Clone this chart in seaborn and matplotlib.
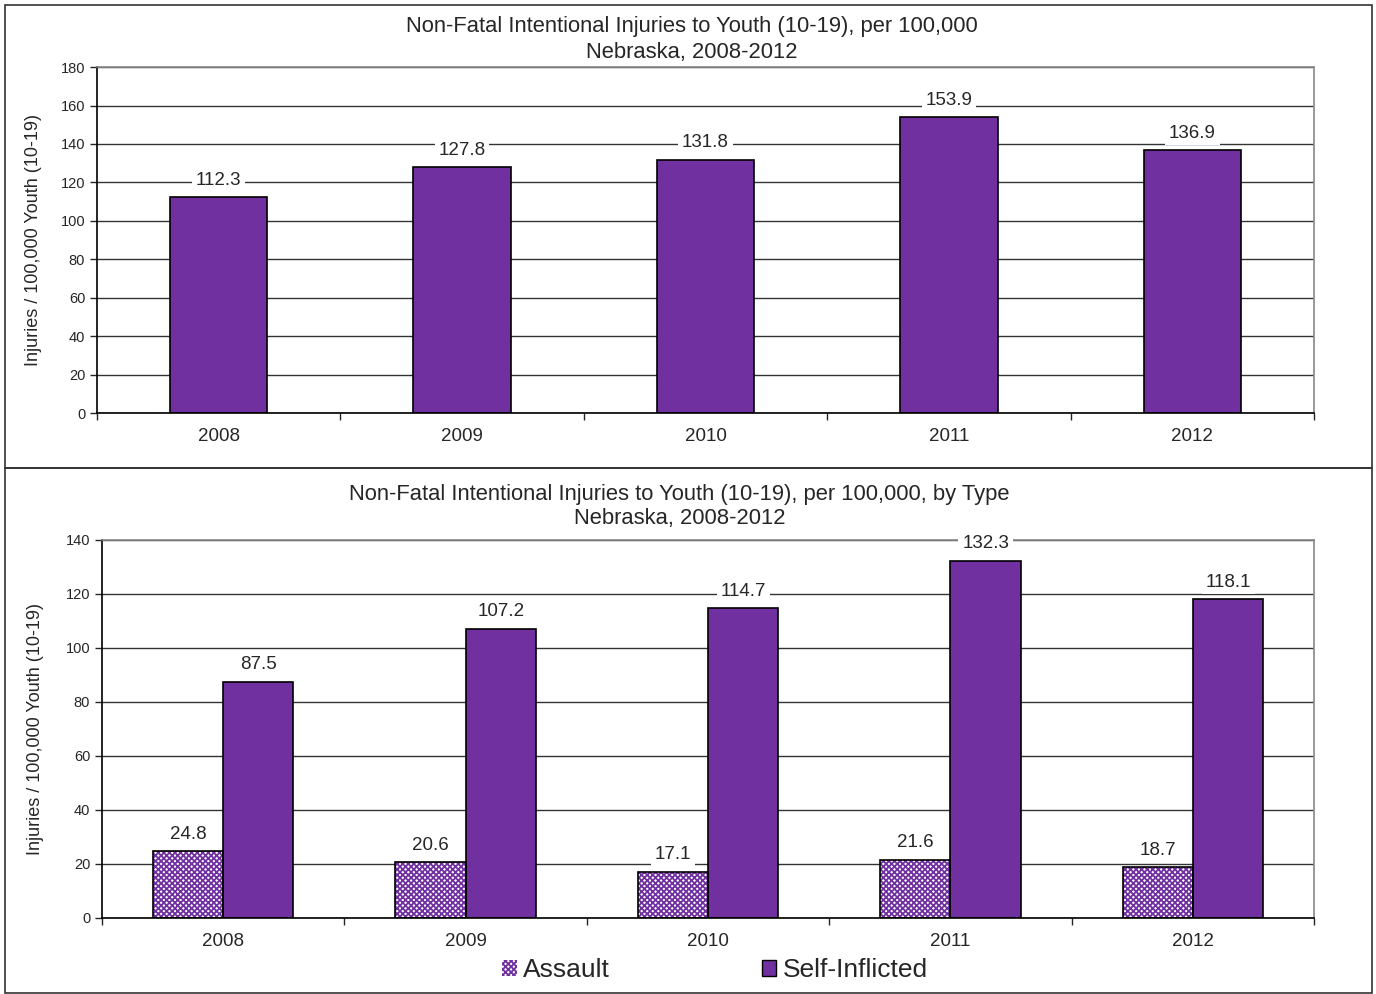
import matplotlib
matplotlib.use("Agg")
import matplotlib.pyplot as plt
from matplotlib.patches import Rectangle
from matplotlib.ticker import FixedLocator
import seaborn as sns
import pandas as pd

years = ["2008", "2009", "2010", "2011", "2012"]
total = [112.3, 127.8, 131.8, 153.9, 136.9]
assault = [24.8, 20.6, 17.1, 21.6, 18.7]
self_inflicted = [87.5, 107.2, 114.7, 132.3, 118.1]
types = ["Assault", "Self-Inflicted"]

purple = "#7030A0"

sns.set_style("white")
plt.rcParams["font.family"] = ["Liberation Sans", "DejaVu Sans"]
plt.rcParams["hatch.linewidth"] = 1.3

fig = plt.figure(figsize=(13.76, 9.94), dpi=100)
ax1 = fig.add_axes([0.0705, 0.5845, 0.8845, 0.348])
ax2 = fig.add_axes([0.0741, 0.0765, 0.8809, 0.3803])

# panel borders
for y0, h in [(5, 463), (468, 525)]:
    fig.patches.append(Rectangle((5 / 1376, 1 - (y0 + h) / 994), 1367 / 1376, h / 994,
                                 transform=fig.transFigure, fill=False,
                                 edgecolor="#333333", lw=1.2))

# top chart
df1 = pd.DataFrame({"year": years, "rate": total})
sns.barplot(data=df1, x="year", y="rate", color=purple, width=0.4,
            edgecolor="black", linewidth=1.2, saturation=1, ax=ax1)

# bottom chart
df2 = pd.DataFrame({
    "year": years * 2,
    "rate": assault + self_inflicted,
    "type": [types[0]] * 5 + [types[1]] * 5,
})
sns.barplot(data=df2, x="year", y="rate", hue="type", palette=[purple, purple],
            width=0.58, edgecolor="black", linewidth=1.2, saturation=1,
            legend=False, ax=ax2)

# hatched assault bars
for p in ax2.patches[:5]:
    p.set_facecolor("white")
    p.set_edgecolor(purple)
    p.set_hatch("xxxxxx")
    p.set_linewidth(0)
    ax2.add_patch(Rectangle(p.get_xy(), p.get_width(), p.get_height(),
                            fill=False, edgecolor="black", lw=1.2, zorder=p.get_zorder() + 0.1))

for ax, top in [(ax1, 180), (ax2, 140)]:
    ax.set_ylim(0, top)
    ax.set_xlim(-0.5, 4.5)
    ax.set_yticks(range(0, top + 1, 20))
    ax.yaxis.grid(True, color="#333333", lw=1)
    ax.set_axisbelow(True)
    ax.set_xlabel("")
    ax.tick_params(axis="y", labelsize=10.5, length=5, direction="out", left=True, width=1)
    ax.tick_params(axis="x", which="major", labelsize=13.5, length=0, pad=11)
    ax.xaxis.set_minor_locator(FixedLocator([-0.5, 0.5, 1.5, 2.5, 3.5, 4.5]))
    ax.tick_params(axis="x", which="minor", length=5, direction="out", bottom=True, width=1)
    for s in ["left", "bottom"]:
        ax.spines[s].set_color("black")
        ax.spines[s].set_linewidth(1.2)
    for s in ["top", "right"]:
        ax.spines[s].set_color("#888888")
        ax.spines[s].set_linewidth(1.2)

ax1.set_ylabel("Injuries / 100,000 Youth (10-19)", fontsize=13)
ax1.yaxis.set_label_coords(-0.0455, 0.5)
ax2.set_ylabel("Injuries / 100,000 Youth (10-19)", fontsize=13)
ax2.yaxis.set_label_coords(-0.0476, 0.5)

bbox = dict(boxstyle="square,pad=0.2", fc="white", ec="none")
for ax in [ax1, ax2]:
    for c in ax.containers:
        ax.bar_label(c, labels=[f"{v:.1f}" for v in c.datavalues], padding=6,
                     fontsize=13.5, bbox=bbox)

fig.text(0.503, 0.973, "Non-Fatal Intentional Injuries to Youth (10-19), per 100,000",
         ha="center", va="center", fontsize=15.8)
fig.text(0.503, 0.947, "Nebraska, 2008-2012", ha="center", va="center", fontsize=15.8)
fig.text(0.494, 0.503, "Non-Fatal Intentional Injuries to Youth (10-19), per 100,000, by Type",
         ha="center", va="center", fontsize=15.8)
fig.text(0.494, 0.478, "Nebraska, 2008-2012", ha="center", va="center", fontsize=15.8)

handles = [Rectangle((0, 0), 1, 1, facecolor="white", edgecolor=purple, hatch="xxxxxx", lw=0),
           Rectangle((0, 0), 1, 1, facecolor=purple, edgecolor="black", lw=1)]
leg = fig.legend(handles, types, loc="center", bbox_to_anchor=(0.5196, 0.024), ncol=2,
                 frameon=False, fontsize=19, handlelength=0.55, handleheight=0.55,
                 handletextpad=0.25, columnspacing=5.75)

fig.savefig("out.png", dpi=100)
